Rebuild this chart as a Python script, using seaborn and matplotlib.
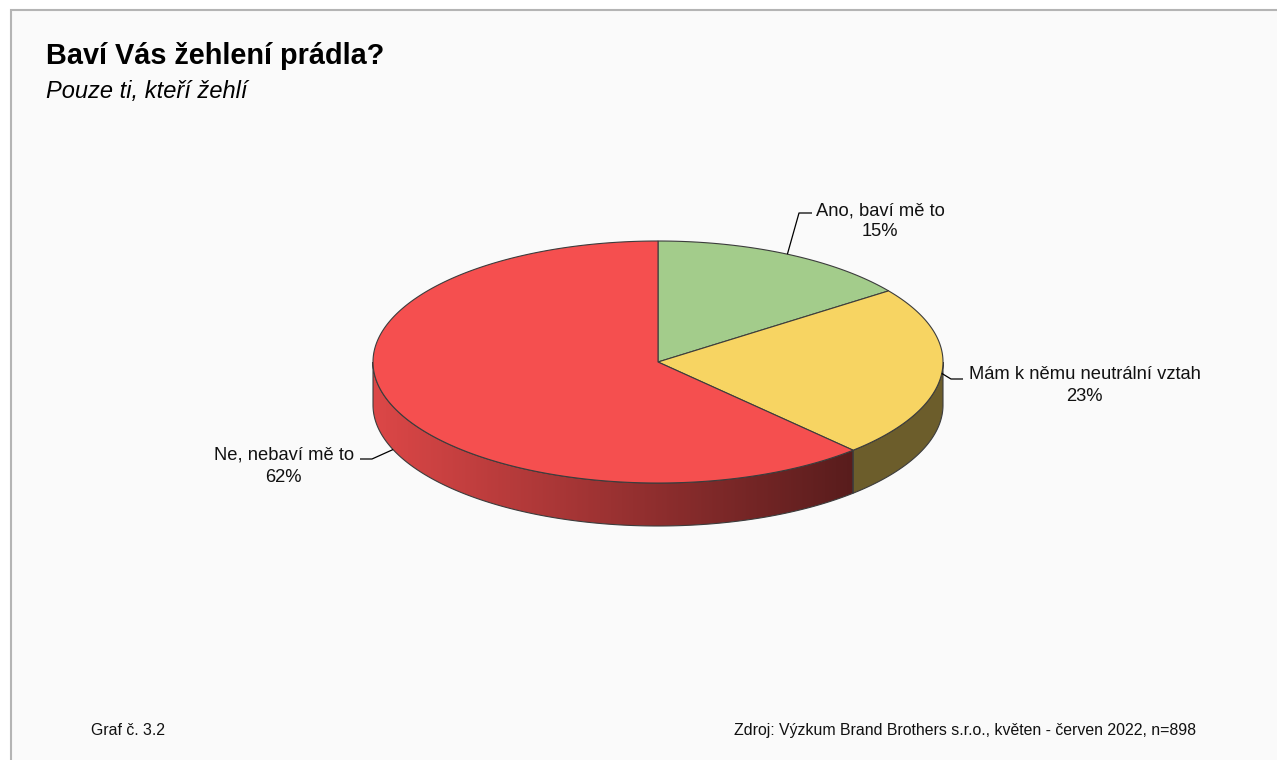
import numpy as np
import matplotlib
matplotlib.use("Agg")
import matplotlib.pyplot as plt
from matplotlib.patches import Polygon, Rectangle
from matplotlib.colors import to_rgb
import seaborn as sns

# ---- data -------------------------------------------------------------
title = "Baví Vás žehlení prádla?"
subtitle = "Pouze ti, kteří žehlí"
categories = ["Ano, baví mě to", "Mám k němu neutrální vztah", "Ne, nebaví mě to"]
shares = [15, 23, 62]
slice_colors = ["#A3CC8B", "#F7D462", "#F54F4F"]
chart_note = "Graf č. 3.2"
source_note = "Zdroj: Výzkum Brand Brothers s.r.o., květen - červen 2022, n=898"

# ---- style ------------------------------------------------------------
sns.set_theme(style="white")
plt.rcParams["font.family"] = ["Liberation Sans", "DejaVu Sans"]

W, H = 1277, 760
fig = plt.figure(figsize=(W / 100, H / 100), dpi=100)
fig.patch.set_facecolor("white")
ax = fig.add_axes([0, 0, 1, 1])
ax.set_axis_off()

# panel background with grey frame on top/left
ax.add_patch(Rectangle((10.5, 9.5), W + 20, H + 20, facecolor="#FAFAFA",
                       edgecolor="#B4B4B4", lw=1.5, zorder=0))

# pie geometry (pixel space)
cx, cy, rx, ry, depth = 658, 362, 285, 121, 43
edge_col, edge_lw = "#3C3C3C", 0.8
# side shading (left factor, right factor) for each slice
side_shade = [(0.6, 0.6), (0.44, 0.44), (0.9, 0.36)]


def rim(theta_deg, drop=0.0):
    t = np.radians(np.atleast_1d(theta_deg))
    return np.column_stack([cx + rx * np.cos(t), cy - ry * np.sin(t) + drop])


fractions = np.asarray(shares, dtype=float) / sum(shares)
starts = 90 - 360 * np.concatenate([[0], np.cumsum(fractions)[:-1]])
ends = starts - 360 * fractions
mids = (starts + ends) / 2

# ---- side walls (front half of the cylinder) ---------------------------
for i, (s, e) in enumerate(zip(starts, ends)):
    base = np.array(to_rgb(slice_colors[i]))
    for k in (-1, 0, 1):
        lo = max(e, -180 + 360 * k)
        hi = min(s, 0 + 360 * k)
        if hi - lo <= 0.01:
            continue
        th = np.linspace(lo, hi, 200)
        top = rim(th)
        bot = rim(th[::-1], depth)
        pts = np.vstack([top, bot])
        outline = Polygon(pts, closed=True, facecolor="none",
                          edgecolor=edge_col, lw=edge_lw, zorder=3)
        ax.add_patch(outline)
        x0, x1 = pts[:, 0].min(), pts[:, 0].max()
        y0, y1 = pts[:, 1].min(), pts[:, 1].max()
        n = max(int(x1 - x0) + 1, 2)
        f = np.linspace(side_shade[i][0], side_shade[i][1], n)
        img = np.clip(base[None, None, :] * f[None, :, None], 0, 1)
        img = np.repeat(img, 2, axis=0)
        im = ax.imshow(img, extent=(x0, x1, y1, y0), aspect="auto",
                       interpolation="bilinear", zorder=2)
        im.set_clip_path(outline)

# ---- top face ----------------------------------------------------------
for i, (s, e) in enumerate(zip(starts, ends)):
    th = np.linspace(s, e, 300)
    pts = np.vstack([[cx, cy], rim(th)])
    ax.add_patch(Polygon(pts, closed=True, facecolor=slice_colors[i],
                         edgecolor=edge_col, lw=edge_lw, zorder=4))

# ---- labels with leader lines -----------------------------------------
label_x = [880, 1084.5, 283.7]
label_baselines = [(215, 236), (379, 401), (459, 481.5)]
leader_elbow = [(799, 213), (951, 379), (372, 459)]
leader_end = [(812, 213), (963, 379), (360, 459)]
anchor_drop = [0, 0, depth]
for i, cat in enumerate(categories):
    ax_, ay_ = rim(mids[i], anchor_drop[i])[0]
    ex, ey = leader_elbow[i]
    tx, ty = leader_end[i]
    ax.plot([ax_, ex, tx], [ay_, ey, ty], color="black", lw=0.9, zorder=5,
            solid_capstyle="butt")
    b1, b2 = label_baselines[i]
    ax.text(label_x[i], b1, cat, ha="center", va="baseline", fontsize=13.2,
            color="#111111", zorder=6)
    ax.text(label_x[i], b2, f"{shares[i]}%", ha="center", va="baseline",
            fontsize=13.2, color="#111111", zorder=6)

# ---- titles and notes ----------------------------------------------------
ax.text(46, 64.5, title, fontsize=20.8, fontweight="bold", ha="left",
        va="baseline", color="black")
ax.text(46, 98, subtitle, fontsize=17, fontstyle="italic", ha="left",
        va="baseline", color="black")
ax.text(91, 735, chart_note, fontsize=11.4, ha="left", va="baseline",
        color="#111111")
ax.text(1196, 735, source_note, fontsize=11.4, ha="right", va="baseline",
        color="#111111")

ax.set_xlim(0, W)
ax.set_ylim(H, 0)
fig.savefig("out.png", dpi=100, facecolor=fig.get_facecolor())
